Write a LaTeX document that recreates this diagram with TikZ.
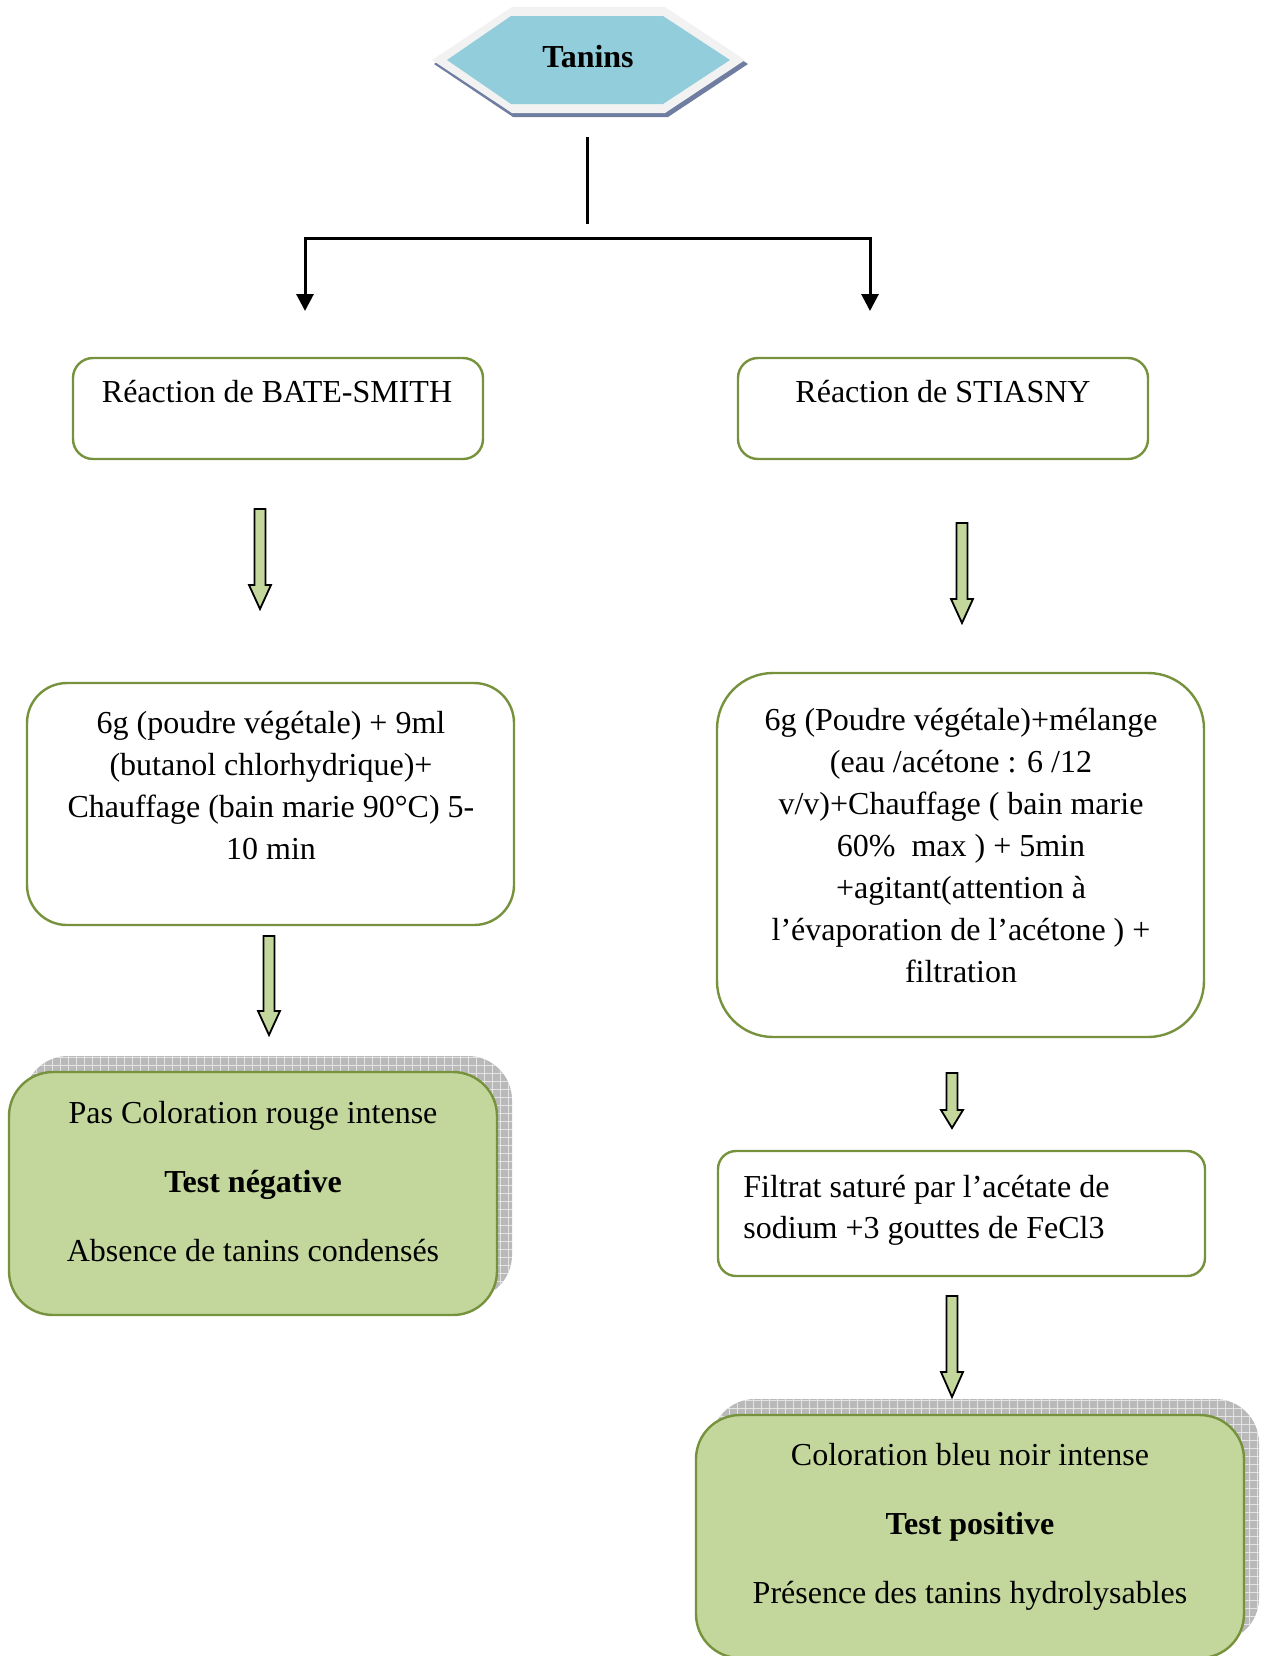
\documentclass[tikz,border=0pt]{standalone}
\usepackage{fontspec}
\setmainfont{Liberation Serif}
\usetikzlibrary{arrows.meta}
\definecolor{olive}{RGB}{118,146,60}
\definecolor{lightgreen}{RGB}{195,214,155}
\definecolor{hexblue}{RGB}{146,205,220}
\definecolor{hexrim}{RGB}{242,242,242}
\definecolor{hexshadow}{RGB}{110,125,160}
\definecolor{shadowgray}{RGB}{185,185,185}
\definecolor{shadowline}{RGB}{228,228,228}
\begin{document}
\begin{tikzpicture}[x=0.5pt,y=-0.5pt,
 every node/.style={font=\fontsize{16pt}{21pt}\selectfont, inner sep=0pt},
 boxstyle/.style={draw=olive, line width=1.2pt, fill=white, rectangle},
 resbox/.style={draw=olive, line width=1.2pt, fill=lightgreen, rectangle, rounded corners=22pt, minimum width=#1, minimum height=121.5pt},
 shadowbox/.style={fill=shadowgray, rectangle, rounded corners=22pt, minimum width=#1, minimum height=121.5pt,
   path picture={\draw[shadowline, line width=0.4pt] (path picture bounding box.south west) grid[step=4pt] (path picture bounding box.north east);}},
 txt/.style={anchor=base, align=center},
 conn/.style={line width=1.5pt, black, line join=miter},
 garrowstyle/.style={draw=black, line width=0.9pt, fill=lightgreen, line join=miter},
 pics/garrow/.style 2 args={code={\draw[garrowstyle] (-5.5,0) -- (5.5,0) -- (5.5,#1-#2) -- (11,#1-#2) -- (0,#1) -- (-11,#1-#2) -- (-5.5,#1-#2) -- cycle;}}
]
\useasboundingbox (0,0) rectangle (1260,1656);

% hexagon
\fill[hexshadow] (434,64) -- (514,10) -- (667,10) -- (748,64) -- (668,117) -- (513,117) -- cycle;
\fill[hexrim] (432,60) -- (512,7) -- (665,7) -- (745,60) -- (665,113) -- (512,113) -- cycle;
\fill[hexblue] (447,60) -- (511,16) -- (663,16) -- (730,60) -- (663,104) -- (511,104) -- cycle;
\node[font=\fontsize{16pt}{21pt}\selectfont\bfseries, anchor=base] (tanins) at (588,67) {Tanins};

% top connector
\coordinate (vtop) at (587,137);
\coordinate (vbot) at (587,224);
\coordinate (hl) at (305,238);
\coordinate (hr) at (870,238);
\coordinate (al) at (305,311);
\coordinate (ar) at (870,311);
\draw[conn] (vtop) -- (vbot);
\draw[conn, {Triangle[width=8.5pt,length=8.5pt]}-{Triangle[width=8.5pt,length=8.5pt]}] (al) -- (hl) -- (hr) -- (ar);

% reaction boxes
\node[boxstyle, rounded corners=10pt, minimum width=205pt, minimum height=50.5pt] (reac1) at (278,408.5) {};
\node[txt] (reac1t) at (277,402) {Réaction de BATE-SMITH};
\node[boxstyle, rounded corners=10pt, minimum width=205pt, minimum height=50.5pt] (reac2) at (943,408.5) {};
\node[txt] (reac2t) at (943,402) {Réaction de STIASNY};

% procedure boxes (base anchor = last line baseline)
\node[boxstyle, rounded corners=20pt, minimum width=243.5pt, minimum height=121pt] (proc1) at (270.5,804) {};
\node[txt] (proc1t) at (271,859) {6g (poudre végétale) + 9ml\\(butanol chlorhydrique)+\\Chauffage (bain marie 90°C) 5-\\10 min};
\node[boxstyle, rounded corners=28pt, minimum width=243.5pt, minimum height=182pt] (proc2) at (960.5,855) {};
\node[txt] (proc2t) at (961,982) {6g (Poudre végétale)+mélange\\(eau /acétone : 6 /12\\v/v)+Chauffage ( bain marie\\60\%~ max ) + 5min\\+agitant(attention à\\l’évaporation de l’acétone ) +\\filtration};

% filtrat box
\node[boxstyle, rounded corners=9pt, minimum width=243.5pt, minimum height=62.5pt] (filt) at (961.5,1213.5) {};
\node[anchor=base west, align=left, font=\fontsize{16pt}{20.5pt}\selectfont] (filtt) at (743,1238) {Filtrat saturé par l’acétate de\\sodium +3 gouttes de FeCl3};

% result boxes
\node[shadowbox=244pt] (res1s) at (268,1177.5) {};
\node[resbox=244pt] (res1) at (253,1193.5) {};
\node[txt, font=\fontsize{16pt}{34.5pt}\selectfont] (res1t) at (253,1261) {Pas Coloration rouge intense\\\textbf{Test négative}\\Absence de tanins condensés};
\node[shadowbox=274pt] (res2s) at (985,1520.5) {};
\node[resbox=274pt] (res2) at (970,1536.5) {};
\node[txt, font=\fontsize{16pt}{34.5pt}\selectfont] (res2t) at (970,1603) {Coloration bleu noir intense\\\textbf{Test positive}\\Présence des tanins hydrolysables};

% green block arrows
\pic (ga1) at (260,509) {garrow={100}{24}};
\pic (ga2) at (962,523) {garrow={100}{24}};
\pic (ga3) at (269,936) {garrow={99}{24}};
\pic (ga4) at (952,1073) {garrow={55}{18}};
\pic (ga5) at (952,1296) {garrow={101}{25}};
\end{tikzpicture}
\end{document}
